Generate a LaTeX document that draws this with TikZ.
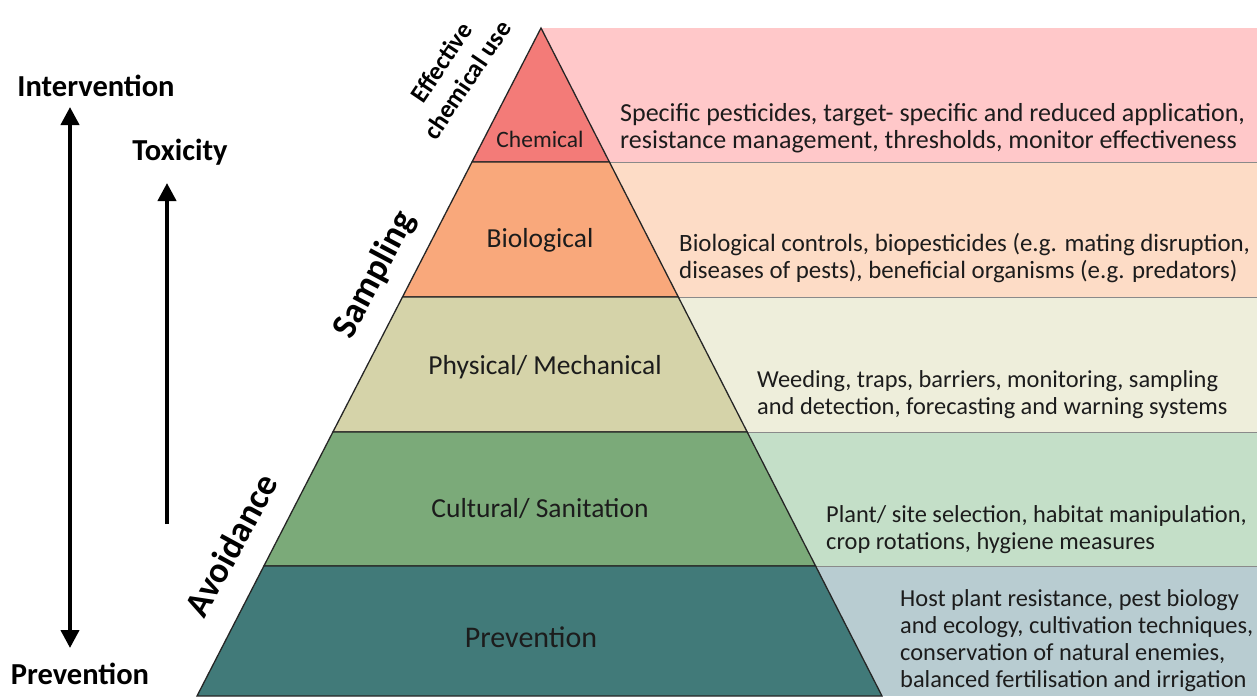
\documentclass[tikz,border=0pt]{standalone}
\usepackage{fontspec}
\setmainfont{Carlito}
\usetikzlibrary{arrows.meta}

\definecolor{txt}{HTML}{1C1C1C}
% pyramid tiers
\definecolor{chemC}{HTML}{F37B78}
\definecolor{bioC}{HTML}{F9A87B}
\definecolor{physC}{HTML}{D5D3A9}
\definecolor{cultC}{HTML}{7BAA79}
\definecolor{prevC}{HTML}{417A79}
% description panels
\definecolor{chemP}{HTML}{FFC8C9}
\definecolor{bioP}{HTML}{FDDCC6}
\definecolor{physP}{HTML}{EEEEDB}
\definecolor{cultP}{HTML}{C4DFC8}
\definecolor{prevP}{HTML}{B8CCD1}
\definecolor{sepline}{HTML}{8A8A8A}

\tikzset{
  tier/.style={draw=black!85, line width=1.3pt, line join=miter},
  panelsep/.style={draw=sepline, line width=1pt},
  desc/.style={anchor=west, align=left, inner sep=0pt, text=txt,
    font=\fontsize{24.4}{27}\selectfont},
  tiername/.style={inner sep=0pt, text=txt, font=\fontsize{27.5}{30}\selectfont},
  sidelabel/.style={inner sep=0pt, text=black, font=\bfseries\fontsize{30.5}{34}\selectfont},
  slantlabel/.style={inner sep=0pt, text=black, align=center},
  bigarrow/.style={line width=4pt, -{Triangle[length=18pt,width=18pt]}},
  dblarrow/.style={line width=4pt, {Triangle[length=18pt,width=18pt]}-{Triangle[length=18pt,width=18pt]}},
}

\begin{document}
\begin{tikzpicture}[x=1pt, y=-1pt]
\useasboundingbox (0,0) rectangle (1257,696);
\fill[white] (0,0) rectangle (1257,696);

% description panels behind the pyramid
\fill[chemP] (541,28)  rectangle (1257,162);
\fill[bioP]  (541,162) rectangle (1257,297);
\fill[physP] (541,297) rectangle (1257,432);
\fill[cultP] (541,432) rectangle (1257,566);
\fill[prevP] (541,566) rectangle (1257,696);
\draw[panelsep] (609.4,162) -- (1257,162);
\draw[panelsep] (678.3,297) -- (1257,297);
\draw[panelsep] (747.2,432) -- (1257,432);
\draw[panelsep] (815.6,566) -- (1257,566);

% pyramid tiers
\filldraw[tier, fill=chemC] (541,28) -- (609.4,162) -- (472.0,162) -- cycle;
\filldraw[tier, fill=bioC]  (472.0,162) -- (609.4,162) -- (678.3,297) -- (402.5,297) -- cycle;
\filldraw[tier, fill=physC] (402.5,297) -- (678.3,297) -- (747.2,432) -- (332.9,432) -- cycle;
\filldraw[tier, fill=cultC] (332.9,432) -- (747.2,432) -- (815.6,566) -- (263.9,566) -- cycle;
\filldraw[tier, fill=prevC] (263.9,566) -- (815.6,566) -- (882,696) -- (197,696) -- cycle;

% tier names
\node[tiername, font=\fontsize{23.5}{27}\selectfont] (tChem) at (540,139) {Chemical};
\node[tiername] (tBio)  at (540,240) {Biological};
\node[tiername] (tPhys) at (545,367) {Physical/ Mechanical};
\node[tiername] (tCult) at (540,509) {Cultural/ Sanitation};
\node[tiername, font=\fontsize{30}{33}\selectfont] (tPrev) at (531,637) {Prevention};

% descriptions
\node[desc, font=\fontsize{26}{26.5}\selectfont] (dChem) at (620,128) {Specific pesticides, target- specific and reduced application,\\resistance management, thresholds, monitor effectiveness};
\node[desc, font=\fontsize{24.9}{27}\selectfont] (dBio) at (679,258.5) {Biological controls, biopesticides (e.g. mating disruption,\\diseases of pests), beneficial organisms (e.g. predators)};
\node[desc] (dPhys) at (757,395) {Weeding, traps, barriers, monitoring, sampling\\and detection, forecasting and warning systems};
\node[desc] (dCult) at (826,530) {Plant/ site selection, habitat manipulation,\\crop rotations, hygiene measures};
\node[desc] (dPrev) at (900,641) {Host plant resistance, pest biology\\and ecology, cultivation techniques,\\conservation of natural enemies,\\balanced fertilisation and irrigation};

% slanted labels along the left side
\node[slantlabel, rotate=56, font=\bfseries\fontsize{25.5}{31}\selectfont] (lEff) at (454,71) {Effective\\chemical use};
\node[slantlabel, rotate=62, font=\bfseries\fontsize{36}{40}\selectfont] (lSamp) at (375,275) {Sampling};
\node[slantlabel, rotate=61.5, font=\bfseries\fontsize{36}{40}\selectfont] (lAvoid) at (231,545) {Avoidance};

% left axis labels and arrows
\node[sidelabel] (lInt)  at (96,86)  {Intervention};
\node[sidelabel] (lTox)  at (180,152) {Toxicity};
\node[sidelabel] (lPrev) at (80,674) {Prevention};

\coordinate (iTop) at (70,107);
\coordinate (iBot) at (70,648);
\coordinate (tTop) at (167,183);
\coordinate (tBot) at (167,524);
\draw[dblarrow] (iBot) -- (iTop);
\draw[bigarrow] (tBot) -- (tTop);
\end{tikzpicture}
\end{document}
